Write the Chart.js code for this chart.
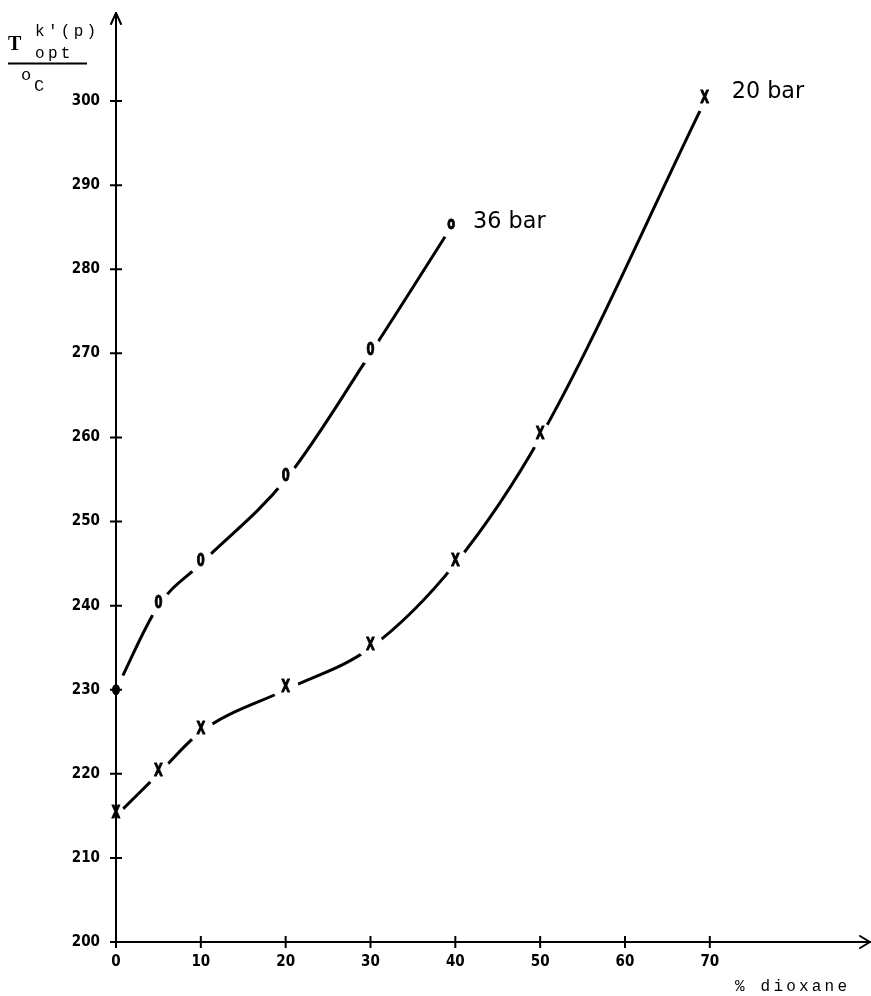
<!DOCTYPE html>
<html><head><meta charset="utf-8">
<script src="https://cdn.jsdelivr.net/npm/chart.js@4/dist/chart.umd.min.js"></script>
<style>html,body{margin:0;padding:0;background:#fff;overflow:hidden}</style>
</head><body>
<canvas id="c" width="871" height="996"></canvas>
<script>
// ---- data ----
const dioxane36 = [0, 5, 10, 20, 30, 39.5];
const temp36    = [230, 240, 245, 255, 270, 285];
const dioxane20 = [0, 5, 10, 20, 30, 40, 50, 69.4];
const temp20    = [215, 220, 225, 230, 235, 245, 260, 300];
const xTicks = [0, 10, 20, 30, 40, 50, 60, 70];
const yTicks = [200, 210, 220, 230, 240, 250, 260, 270, 280, 290, 300];
const seriesNames = ['36 bar', '20 bar'];
const markerChars = ['0', 'X'];
const xTitle = '% dioxane';

const TICKFONT = "'DejaVu Sans Condensed', 'DejaVu Sans', sans-serif";
const MONO = "'Liberation Mono', 'DejaVu Sans Mono', monospace";

const decor = {
  id: 'decor',
  afterDatasetsDraw(chart) {
    const ctx = chart.ctx;
    const xs = chart.scales.x, ys = chart.scales.y;
    const x0 = xs.getPixelForValue(0), y0 = ys.getPixelForValue(200);
    ctx.save();
    // knock the curves out around each marker
    ctx.fillStyle = '#fff';
    chart.data.datasets.forEach((ds, di) => {
      chart.getDatasetMeta(di).data.forEach((pt, i) => {
        const r = (ds.data[i].x === 0) ? (di === 0 ? 14 : 9) : 13;
        ctx.beginPath(); ctx.arc(pt.x, pt.y - 2, r, 0, Math.PI * 2); ctx.fill();
      });
    });
    ctx.strokeStyle = '#000'; ctx.fillStyle = '#000';
    ctx.lineCap = 'round'; ctx.lineJoin = 'round';
    // axes
    ctx.lineWidth = 2;
    ctx.beginPath();
    ctx.moveTo(x0, y0); ctx.lineTo(x0, 13);
    ctx.moveTo(x0, y0); ctx.lineTo(870, y0);
    ctx.stroke();
    // arrows
    ctx.beginPath();
    ctx.moveTo(x0 - 5, 24); ctx.lineTo(x0, 13); ctx.lineTo(x0 + 5, 24);
    ctx.moveTo(860, y0 - 6); ctx.lineTo(870, y0); ctx.lineTo(860, y0 + 6);
    ctx.stroke();
    // tick crosses
    ctx.lineCap = 'butt';
    ctx.beginPath();
    yTicks.forEach(v => { const p = ys.getPixelForValue(v); ctx.moveTo(x0 - 6, p); ctx.lineTo(x0 + 6, p); });
    xTicks.forEach(v => { const p = xs.getPixelForValue(v); ctx.moveTo(p, y0 - 6); ctx.lineTo(p, y0 + 6); });
    ctx.stroke();

    // markers
    chart.data.datasets.forEach((ds, di) => {
      const meta = chart.getDatasetMeta(di);
      meta.data.forEach((pt, i) => {
        ctx.save();
        if (di === 0 && ds.data[i].x === 0) {
          ctx.translate(pt.x, pt.y);
          ctx.beginPath(); ctx.ellipse(0, 0, 4, 5.5, 0, 0, Math.PI * 2); ctx.fill();
        } else {
          ctx.translate(pt.x, pt.y - 2.5);
          ctx.scale(0.85, 1.15);
          ctx.font = 'bold 15px ' + TICKFONT;
          ctx.textAlign = 'center'; ctx.textBaseline = 'middle';
          ctx.lineWidth = 0.8;
          const ch = (di === 0 && i === ds.data.length - 1) ? 'o' : markerChars[di];
          ctx.fillText(ch, 0, 0);
          ctx.strokeText(ch, 0, 0);
        }
        ctx.restore();
      });
      // series label
      const last = meta.data[meta.data.length - 1];
      ctx.save();
      ctx.font = "23px 'DejaVu Sans', sans-serif";
      ctx.textBaseline = 'alphabetic';
      ctx.translate(last.x + (di === 0 ? 22 : 27), last.y + (di === 0 ? 1 : -3));
      ctx.scale(0.97, 1);
      ctx.fillText(seriesNames[di], 0, 0);
      ctx.restore();
    });

    // y title
    ctx.font = "bold 20px 'Liberation Serif', 'DejaVu Serif', serif";
    ctx.textBaseline = 'alphabetic';
    ctx.fillText('T', 8, 50);
    ctx.font = '16px ' + MONO;
    ctx.letterSpacing = '3.3px';
    ctx.fillText("k'(p)", 35, 36);
    ctx.fillText('opt', 35, 58);
    ctx.font = '17px ' + MONO;
    ctx.fillText('C', 34, 91);
    ctx.fillText('o', 21, 80);
    ctx.lineWidth = 2;
    ctx.beginPath(); ctx.moveTo(8, 63.5); ctx.lineTo(87, 63.5); ctx.stroke();
    // x title
    ctx.font = '16px ' + MONO;
    ctx.letterSpacing = '3.2px';
    ctx.fillText(xTitle, 735, 991);
    ctx.restore();
  }
};

const lineStyle = {
  borderColor: '#000', borderWidth: 3, cubicInterpolationMode: 'monotone',
  pointRadius: 0, pointHoverRadius: 0, fill: false, clip: false
};

new Chart(document.getElementById('c'), {
  type: 'line',
  data: {
    datasets: [
      Object.assign({ label: seriesNames[0], data: dioxane36.map((x, i) => ({ x, y: temp36[i] })) }, lineStyle),
      Object.assign({ label: seriesNames[1], data: dioxane20.map((x, i) => ({ x, y: temp20[i] })) }, lineStyle)
    ]
  },
  options: {
    responsive: false, animation: false, devicePixelRatio: 1,
    layout: { padding: { top: 7.5, right: 0, left: 0, bottom: 0 } },
    plugins: { legend: { display: false }, tooltip: { enabled: false } },
    events: [],
    scales: {
      x: {
        type: 'linear', min: 0, max: 89,
        afterBuildTicks: s => { s.ticks = xTicks.map(v => ({ value: v })); },
        afterFit: s => { s.height = 54; },
        grid: { display: false }, border: { display: false },
        ticks: { color: '#000', padding: 3, maxRotation: 0, autoSkip: false,
                 font: { family: TICKFONT, weight: 'bold', size: 15 } }
      },
      y: {
        type: 'linear', min: 200, max: 310,
        afterBuildTicks: s => { s.ticks = yTicks.map(v => ({ value: v })); },
        afterFit: s => { s.width = 116; },
        grid: { display: false }, border: { display: false },
        ticks: { color: '#000', padding: 8, autoSkip: false,
                 font: { family: TICKFONT, weight: 'bold', size: 15 } }
      }
    }
  },
  plugins: [decor]
});
</script>
</body></html>
